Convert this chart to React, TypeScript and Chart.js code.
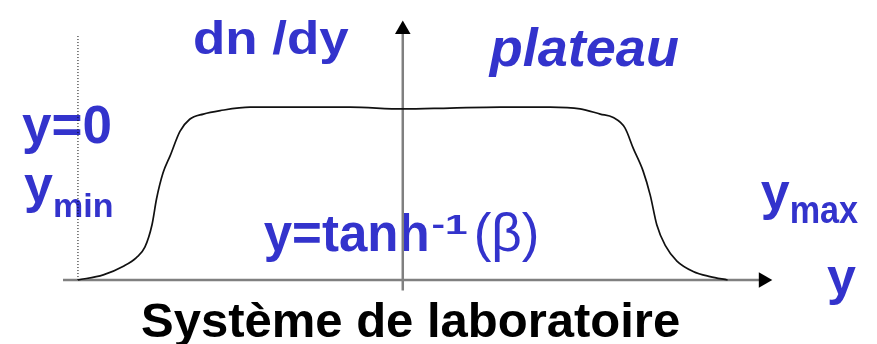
import { useEffect, useRef } from "react";
import { Chart, registerables } from "chart.js";

Chart.register(...registerables);

// Rapidity (0 = y_min, 10 = y_max, mid-rapidity 5 = tanh^-1(beta))
const rapidity = [0, 0.39, 0.7, 0.9, 1.03, 1.14, 1.21, 1.31, 1.42, 1.57, 1.72, 1.93, 2.19, 2.65, 3.42, 4.19, 5.0, 5.73, 6.5, 7.27, 7.73, 8.04, 8.24, 8.42, 8.55, 8.7, 8.81, 8.91, 9.04, 9.22, 9.47, 9.73, 10.0];
// dn/dy (plateau normalised to 1)
const dndy = [0, 0.03, 0.08, 0.13, 0.19, 0.32, 0.47, 0.62, 0.72, 0.86, 0.93, 0.96, 0.98, 1.0, 1.0, 1.0, 0.99, 0.995, 1.0, 1.0, 0.99, 0.96, 0.94, 0.88, 0.76, 0.63, 0.49, 0.32, 0.2, 0.11, 0.05, 0.02, 0.0];

// View window in data units
const viewX = [-1.2, 12.3];
const viewY = [-0.37, 1.62];

// Axes (data units)
const horizAxisX = [-0.23, 10.55];
const vertAxisPos = 5.0;
const vertAxisY = [-0.06, 1.45];
const yMinPos = 0;
const dottedY = [0, 1.42];

const BLUE = "#3333cc";

type Part = { t: string; size: number; bold?: boolean; italic?: boolean; sx?: number; rise?: number; dx?: number };
type Note = { x: number; y: number; color: string; parts: Part[] };

const notes: Note[] = [
  { x: 1.77, y: 1.31, color: BLUE, parts: [{ t: "dn /dy", size: 46, sx: 1.15 }] },
  { x: 6.34, y: 1.24, color: BLUE, parts: [{ t: "plateau", size: 54, italic: true }] },
  { x: -0.86, y: 0.79, color: BLUE, parts: [{ t: "y=0", size: 53 }] },
  { x: -0.83, y: 0.45, color: BLUE, parts: [{ t: "y", size: 52 }, { t: "min", size: 34, rise: -15 }] },
  {
    x: 2.86, y: 0.17, color: BLUE, parts: [
      { t: "y=tanh", size: 51 },
      { t: "-1", size: 28, sx: 1.45, rise: 17, dx: 2 },
      { t: "(β)", size: 53, bold: false, dx: 6 },
    ],
  },
  { x: 10.51, y: 0.41, color: BLUE, parts: [{ t: "y", size: 52 }, { t: "max", size: 38, sx: 0.9, rise: -14 }] },
  { x: 11.53, y: -0.08, color: BLUE, parts: [{ t: "y", size: 52 }] },
  { x: 0.97, y: -0.33, color: "#000000", parts: [{ t: "Système de laboratoire", size: 49 }] },
];

const FAMILY = '"Liberation Sans", Arial, Helvetica, sans-serif';

const textPlugin = {
  id: "notes",
  beforeDatasetsDraw(chart: any) {
    const { ctx, scales } = chart;
    const xs = scales.x;
    const ys = scales.y;
    ctx.save();
    ctx.textAlign = "left";
    ctx.textBaseline = "alphabetic";
    for (const n of notes) {
      let px = xs.getPixelForValue(n.x);
      const py = ys.getPixelForValue(n.y);
      for (const p of n.parts) {
        const style = p.italic ? "italic " : "";
        const weight = p.bold === false ? "" : "bold ";
        ctx.font = `${style}${weight}${p.size}px ${FAMILY}`;
        ctx.fillStyle = n.color;
        const sx = p.sx ?? 1;
        px += p.dx ?? 0;
        ctx.save();
        ctx.translate(px, py - (p.rise ?? 0));
        ctx.scale(sx, 1);
        ctx.fillText(p.t, 0, 0);
        ctx.restore();
        px += ctx.measureText(p.t).width * sx;
      }
    }
    ctx.restore();
  },
};

export default function App() {
  const ref = useRef<HTMLCanvasElement | null>(null);

  useEffect(() => {
    if (!ref.current) return;
    const curve = rapidity.map((r, i) => ({ x: r, y: dndy[i] }));
    const chart = new Chart(ref.current, {
      type: "scatter",
      data: {
        datasets: [
          {
            data: curve,
            showLine: true,
            borderColor: "#111111",
            borderWidth: 1.7,
            pointRadius: 0,
            cubicInterpolationMode: "monotone",
            order: 0,
          },
          {
            data: [{ x: yMinPos, y: dottedY[0] }, { x: yMinPos, y: dottedY[1] }],
            showLine: true,
            borderColor: "#000000",
            borderWidth: 1,
            borderDash: [1, 2],
            pointRadius: 0,
            order: 1,
          },
          {
            data: [{ x: horizAxisX[0], y: 0 }, { x: horizAxisX[1], y: 0 }],
            showLine: true,
            borderColor: "#808080",
            borderWidth: 2.5,
            pointRadius: [0, 9],
            pointStyle: "triangle",
            rotation: 90,
            pointBackgroundColor: "#000000",
            pointBorderColor: "#000000",
            pointBorderWidth: 0,
            order: 2,
          },
          {
            data: [{ x: vertAxisPos, y: vertAxisY[0] }, { x: vertAxisPos, y: vertAxisY[1] }],
            showLine: true,
            borderColor: "#808080",
            borderWidth: 2.5,
            pointRadius: [0, 9],
            pointStyle: "triangle",
            rotation: 0,
            pointBackgroundColor: "#000000",
            pointBorderColor: "#000000",
            pointBorderWidth: 0,
            order: 2,
          },
        ] as any,
      },
      options: {
        animation: false,
        responsive: false,
        maintainAspectRatio: false,
        devicePixelRatio: 1,
        layout: { padding: 0, autoPadding: false },
        events: [],
        plugins: {
          legend: { display: false },
          title: { display: false },
          tooltip: { enabled: false },
        },
        scales: {
          x: { type: "linear", min: viewX[0], max: viewX[1], display: false },
          y: { type: "linear", min: viewY[0], max: viewY[1], display: false },
        },
      } as any,
      plugins: [textPlugin],
    });
    return () => chart.destroy();
  }, []);

  return (
    <div style={{ position: "absolute", left: 0, top: 0, width: 877, height: 344, background: "#ffffff" }}>
      <canvas ref={ref} width={877} height={344} style={{ width: 877, height: 344, display: "block" }} />
    </div>
  );
}
